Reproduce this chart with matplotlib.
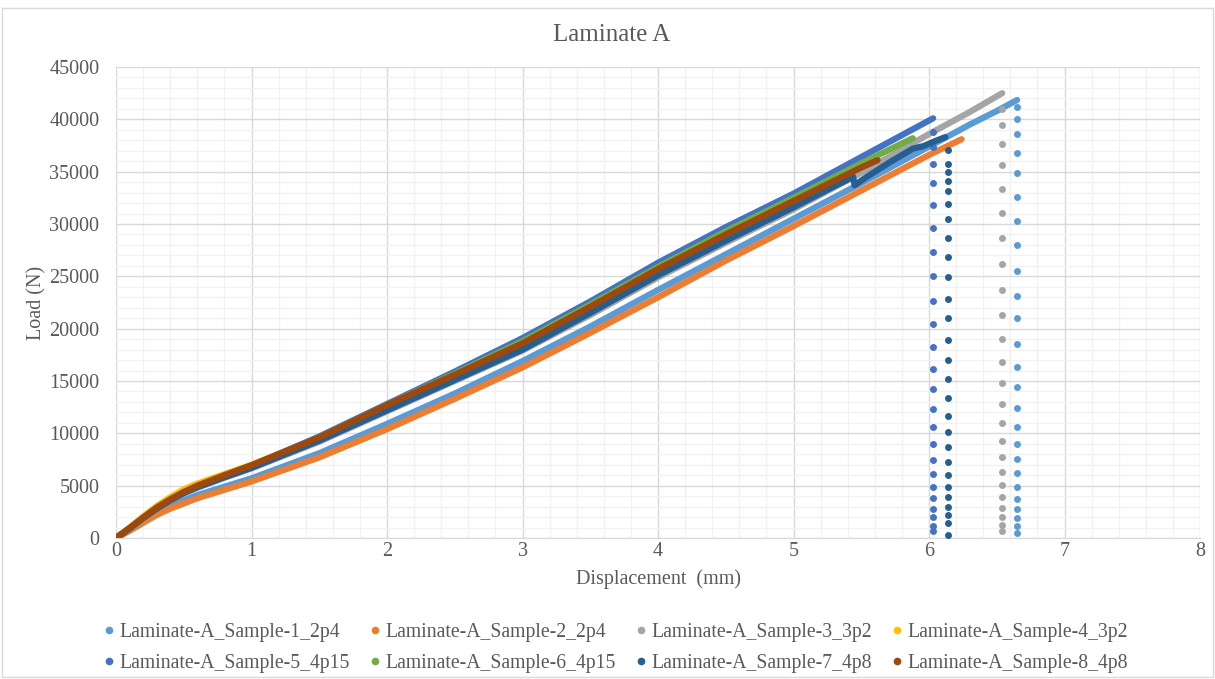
import matplotlib.pyplot as plt
import matplotlib.ticker as ticker
from matplotlib.patches import Rectangle
import numpy as np

plt.rcParams['font.family'] = ['Liberation Serif', 'DejaVu Serif']

# loading curves (displacement mm, load N)
s1_disp = [0, 0.1, 0.2, 0.3, 0.4, 0.5, 0.6, 0.8, 1.0, 1.5, 2.0, 2.5, 3.0, 3.5, 4.0, 4.5, 5.0, 5.5, 6.0, 6.3, 6.5, 6.65]
s1_load = [0, 700, 1500, 2300, 3000, 3600, 4100, 4900, 5700, 8100, 10900, 13800, 16900, 20200, 23700, 27100,
           30500, 33900, 37400, 39500, 40800, 41850]
s2_disp = [0, 0.1, 0.2, 0.3, 0.4, 0.5, 0.6, 0.8, 1.0, 1.5, 2.0, 2.5, 3.0, 3.5, 4.0, 4.5, 5.0, 5.5, 6.0, 6.24]
s2_load = [0, 700, 1450, 2200, 2800, 3300, 3800, 4600, 5400, 7700, 10400, 13300, 16300, 19600, 23000, 26500,
           29800, 33200, 36600, 38100]
s3_disp = [0, 0.1, 0.2, 0.3, 0.4, 0.5, 0.6, 0.8, 1.0, 1.5, 2.0, 2.5, 3.0, 3.5, 4.0, 4.5, 5.0, 5.5, 6.0, 6.3, 6.54]
s3_load = [0, 850, 1850, 2750, 3550, 4250, 4800, 5750, 6650, 9200, 12100, 15000, 17900, 21300, 24900, 28200,
           31400, 34900, 38600, 40700, 42500]
s4_disp = [0, 0.1, 0.2, 0.3, 0.4, 0.5, 0.6, 0.8, 1.0, 1.5, 2.0, 2.5, 3.0, 3.5, 4.0, 4.5, 5.0, 5.4]
s4_load = [0, 1000, 2050, 3050, 3900, 4650, 5200, 6100, 7000, 9600, 12700, 15600, 18600, 22000, 25500, 28800,
           32000, 34600]
s5_disp = [0, 0.1, 0.2, 0.3, 0.4, 0.5, 0.6, 0.8, 1.0, 1.5, 2.0, 2.5, 3.0, 3.5, 4.0, 4.5, 5.0, 5.5, 6.03]
s5_load = [0, 900, 1900, 2800, 3600, 4300, 4900, 5900, 6900, 9700, 12800, 15900, 19100, 22600, 26300, 29700,
           32900, 36400, 40100]
s6_disp = [0, 0.1, 0.2, 0.3, 0.4, 0.5, 0.6, 0.8, 1.0, 1.5, 2.0, 2.5, 3.0, 3.5, 4.0, 4.5, 5.0, 5.5, 5.88]
s6_load = [0, 900, 1900, 2850, 3650, 4350, 4950, 5950, 6900, 9600, 12700, 15700, 18800, 22300, 25900, 29300,
           32500, 35800, 38200]
s7_disp = [0, 0.1, 0.2, 0.3, 0.4, 0.5, 0.6, 0.8, 1.0, 1.5, 2.0, 2.5, 3.0, 3.5, 4.0, 4.5, 5.0, 5.3, 5.44, 5.45,
           5.54, 5.71, 5.88, 5.96, 6.06, 6.12]
s7_load = [0, 900, 1900, 2800, 3600, 4300, 4850, 5800, 6700, 9300, 12200, 15100, 18000, 21500, 25100, 28400,
           31600, 33600, 34500, 33700, 34500, 35900, 37200, 37450, 38000, 38300]
s8_disp = [0, 0.1, 0.2, 0.3, 0.4, 0.5, 0.6, 0.8, 1.0, 1.5, 2.0, 2.5, 3.0, 3.5, 4.0, 4.5, 5.0, 5.5, 5.62]
s8_load = [0, 950, 1950, 2900, 3700, 4400, 5000, 6000, 6950, 9600, 12700, 15600, 18600, 22100, 25700, 29000,
           32200, 35400, 36100]

# points recorded during the final load drop
s1_drop_disp = 6.65
s1_drop_load = [41150, 40060, 38600, 36810, 34840, 32610, 30310, 27960, 25480, 23120, 20990, 18530, 16370,
                14400, 12420, 10630, 8980, 7520, 6180, 4900, 3750, 2800, 1910, 1150, 510]
s3_drop_disp = 6.54
s3_drop_load = [40990, 39490, 37640, 35670, 33370, 31020, 28630, 26180, 23690, 21310, 19010, 16820, 14780,
                12800, 10960, 9300, 7770, 6310, 5030, 3890, 2870, 1980, 1210, 640]
s5_drop_disp = 6.03
s5_drop_load = [38820, 37390, 35730, 33880, 31780, 29610, 27290, 25030, 22670, 20450, 18250, 16180, 14210,
                12300, 10580, 8980, 7480, 6140, 4900, 3820, 2800, 1980, 1150, 640]
s7_drop_disp = 6.14
s7_drop_load = [37070, 35730, 35000, 34140, 33180, 31910, 30450, 28660, 26820, 24910, 22860, 20990, 18920,
                17010, 15160, 13380, 11660, 10130, 8670, 7260, 6050, 4900, 3890, 2990, 2170, 1460, 290]

labels = ["Laminate-A_Sample-1_2p4", "Laminate-A_Sample-2_2p4", "Laminate-A_Sample-3_3p2",
          "Laminate-A_Sample-4_3p2", "Laminate-A_Sample-5_4p15", "Laminate-A_Sample-6_4p15",
          "Laminate-A_Sample-7_4p8", "Laminate-A_Sample-8_4p8"]
colors = ["#5B9BD5", "#ED7D31", "#A5A5A5", "#FFC000", "#4472C4", "#70AD47", "#255E91", "#9E480E"]

curves = [(s1_disp, s1_load), (s2_disp, s2_load), (s3_disp, s3_load), (s4_disp, s4_load),
          (s5_disp, s5_load), (s6_disp, s6_load), (s7_disp, s7_load), (s8_disp, s8_load)]
drops = {0: (s1_drop_disp, s1_drop_load), 2: (s3_drop_disp, s3_drop_load),
         4: (s5_drop_disp, s5_drop_load), 6: (s7_drop_disp, s7_drop_load)}

fig = plt.figure(figsize=(12.15, 6.79), dpi=100)
ax = fig.add_axes([0.0955, 0.2077, 0.8922, 0.6936])

handles = []
for i, (xs, ys) in enumerate(curves):
    ax.plot(xs, ys, color=colors[i], lw=4.5, solid_capstyle='round', solid_joinstyle='round', zorder=3)
    if i in drops:
        dx, dy = drops[i]
        ax.plot(np.full(len(dy), dx), dy, 'o', color=colors[i], ms=5, mew=0, zorder=3)
    h, = ax.plot([], [], 'o', color=colors[i], ms=5.5, mew=0, label=labels[i])
    handles.append(h)

ax.set_xlim(0, 8)
ax.set_ylim(0, 45000)
ax.xaxis.set_major_locator(ticker.MultipleLocator(1))
ax.xaxis.set_minor_locator(ticker.MultipleLocator(0.2))
ax.yaxis.set_major_locator(ticker.MultipleLocator(5000))
ax.yaxis.set_minor_locator(ticker.MultipleLocator(1000))
ax.grid(True, which='major', color='#D9D9D9', lw=1.0, zorder=0)
ax.grid(True, which='minor', color='#F2F2F2', lw=1.0, zorder=0)
ax.set_axisbelow(True)
for side in ['top', 'right', 'left']:
    ax.spines[side].set_visible(False)
ax.spines['bottom'].set_color('#D9D9D9')
ax.tick_params(which='both', length=0, labelsize=14.5, colors='#595959')
ax.tick_params(axis='y', pad=12)
ax.tick_params(axis='x', pad=3)

fig.text(0.503, 0.948, "Laminate A", fontsize=18, color='#595959', ha='center', va='center')
ax.set_xlabel("Displacement  (mm)", fontsize=14.5, color='#595959', labelpad=6)
ax.set_ylabel("Load (N)", fontsize=14.5, color='#595959', labelpad=2)

# row-wise legend order like the reference
order = [0, 4, 1, 5, 2, 6, 3, 7]
leg = fig.legend([handles[k] for k in order], [labels[k] for k in order], loc='center',
                 bbox_to_anchor=(0.507, 0.046), ncol=4, frameon=False, fontsize=14.2,
                 handlelength=0.5, handletextpad=0.3, columnspacing=1.0, labelspacing=0.6)
for t in leg.get_texts():
    t.set_color('#595959')

fig.patches.append(Rectangle((0.002, 0.003), 0.996, 0.985, transform=fig.transFigure,
                             fill=False, edgecolor='#D9D9D9', lw=1.0))

fig.savefig("out.png", dpi=100)
